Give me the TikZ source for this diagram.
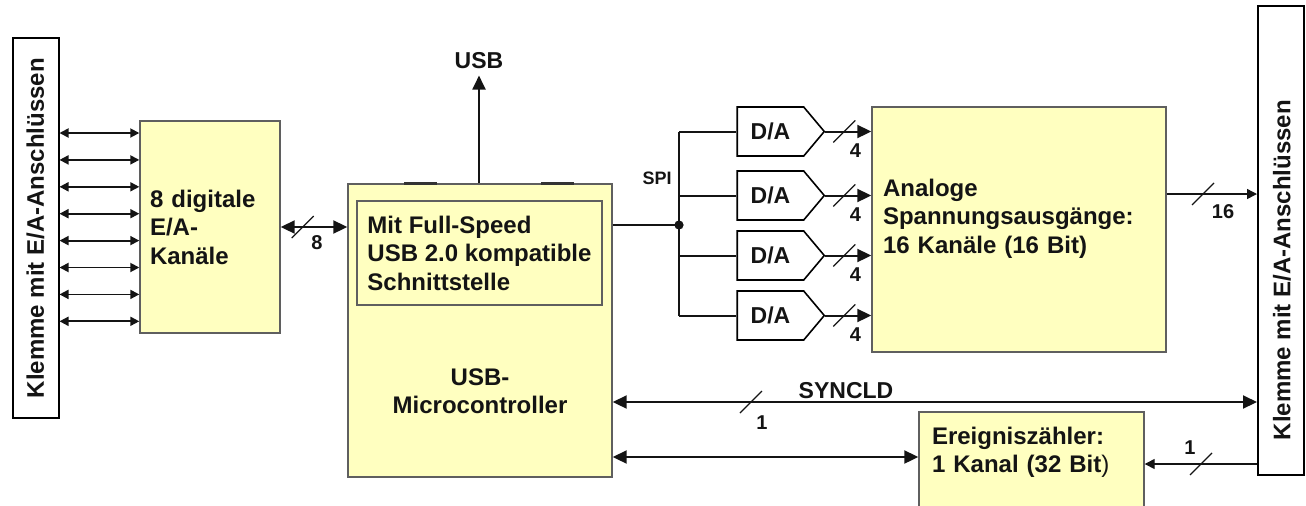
\documentclass[tikz,border=0pt]{standalone}
\usepackage{fontspec}
\setmainfont{Liberation Sans}
\usepackage{tikz}
\usetikzlibrary{arrows.meta,shapes.symbols,calc}
\definecolor{boxyellow}{RGB}{255,255,192}
\definecolor{boxline}{RGB}{95,95,95}
\definecolor{inkblack}{RGB}{20,20,20}
\tikzset{
  basebox/.style={rectangle,draw=boxline,fill=boxyellow,line width=0.7pt,align=left,inner ysep=0pt,text=inkblack,font=\bfseries\fontsize{12}{14.25}\selectfont},
  klemmenode/.style={rectangle,draw=black,fill=white,line width=1pt,rotate=90,minimum height=23pt,text=inkblack,font=\bfseries\fontsize{12}{14}\selectfont},
  danode/.style={signal,signal to=east,signal pointer angle=100,draw=black,fill=white,line width=0.8pt,minimum width=43.5pt,minimum height=24.5pt,inner sep=0pt,text=inkblack,font=\bfseries\fontsize{11.5}{13}\selectfont},
  lblnode/.style={inner sep=0pt,text=inkblack,font=\bfseries\fontsize{10}{12}\selectfont},
  arr/.style={->,>={Triangle[length=7pt,width=6.5pt]},line width=1pt,color=inkblack},
  dblarr/.style={arr,<->},
  smallarr/.style={<->,>={Triangle[length=4.5pt,width=4.5pt]},line width=0.9pt,color=inkblack},
  thinarr/.style={->,>={Triangle[length=5pt,width=5pt]},line width=0.7pt,color=inkblack},
  wire/.style={line width=1pt,color=inkblack},
  tabline/.style={line width=1.3pt,color=black!80},
  slashline/.style={line width=0.6pt,color=inkblack},
  busslash/.pic={\draw[slashline] (-11,11) -- (11,-11);}
}

\begin{document}
\begin{tikzpicture}[x=0.5pt,y=-0.5pt]
  \useasboundingbox (0,0) rectangle (1306,505);

  %% Klemmen links und rechts
  \node[klemmenode,minimum width=190pt] (klL) at (35.5,228) {Klemme mit E/A-Anschlüssen};
  \node[klemmenode,minimum width=234.5pt] (klR) at (1281,240.5) {};
  \node[lblnode,rotate=90,font=\bfseries\fontsize{12}{14}\selectfont] (klRtext) at (1282,270) {Klemme mit E/A-Anschlüssen};

  %% digitale Kanaele
  \node[basebox,text width=60pt,inner xsep=5pt,minimum width=70pt,minimum height=106pt] (dig) at (210,227)
    {8 digitale\\E/A-\\Kanäle};
  \foreach \i in {0,...,7} {
    \coordinate (yy) at (0,{133+\i*26.9});
    \draw[smallarr] (klL.south |- yy) -- (dig.west |- yy);
  }

  %% Microcontroller
  \node[basebox,minimum width=132pt,minimum height=146.5pt] (mc) at (480,330.5) {};
  \node[basebox,minimum width=122.5pt,minimum height=52pt] (usbif) at (479.5,253)
    {Mit Full-Speed\\USB 2.0 kompatible\\Schnittstelle};
  \node[lblnode,align=center,font=\bfseries\fontsize{12}{14.25}\selectfont] (mctext) at (480,391) {USB-\\Microcontroller};
  \draw[tabline] ($(mc.north west)+(57,0)$) -- ++(33,0);
  \draw[tabline] ($(mc.north west)+(194,0)$) -- ++(33,0);

  \draw[dblarr] (dig.east) -- (dig.east -| mc.west);
  \pic at ($(dig.east)+(22,0)$) {busslash};
  \node[lblnode] (n8) at (317,243) {8};

  \node[lblnode,inner sep=3pt,font=\bfseries\fontsize{11.5}{13}\selectfont] (usb) at (479,61) {USB};
  \draw[arr] (usb.south |- mc.north) -- (usb.south);

  %% SPI und D/A
  \coordinate (spi) at (679,225);
  \node[lblnode,font=\bfseries\fontsize{9}{11}\selectfont] (spilbl) at (657,178) {SPI};
  \draw[wire] (mc.east |- spi) -- (spi);
  \fill[inkblack] (spi) circle (2.3pt);

  \node[basebox,text width=136pt,inner xsep=5.5pt,minimum width=147pt,minimum height=122.5pt,text depth=41.8pt] (ana) at (1019,229.5)
    {Analoge\\Spannungsausgänge:\\16 Kanäle (16 Bit)};

  \foreach \i/\y in {1/131.5,2/195.5,3/255.5,4/315.5} {
    \node[danode] (da\i) at (770.5,\y) {D/A};
    \draw[wire] (spi |- da\i.west) -- (da\i.west);
    \draw[arr] (da\i.east) -- (da\i.east -| ana.west);
    \pic at ($(da\i.east)+(19,0)$) {busslash};
    \node[lblnode] (n4\i) at ($(da\i.east)+(30,19)$) {4};
  }
  \draw[wire] (spi |- da1.west) -- (spi |- da4.west);

  %% Ausgaenge zur Klemme
  \coordinate (o16) at (1203,194);
  \draw[thinarr] (ana.east |- o16) -- (klR.north |- o16);
  \pic at (o16) {busslash};
  \node[lblnode] (n16) at (1223,212) {16};

  \coordinate (sy) at (751,402);
  \draw[dblarr] (mc.east |- sy) -- (klR.north |- sy);
  \pic at (sy) {busslash};
  \node[lblnode] (n1a) at (762,423) {1};
  \node[lblnode,font=\bfseries\fontsize{11.5}{13}\selectfont] (synlbl) at (846,391) {SYNCLD};

  %% Ereigniszaehler
  \node[basebox,text width=99.5pt,inner xsep=6.5pt,minimum width=112.5pt,minimum height=50pt,text depth=26.3pt] (ev) at (1031.5,462)
    {Ereigniszähler:\\1 Kanal (32 Bit\textmd{)}};
  \coordinate (evin) at (700,457);
  \draw[dblarr] (mc.east |- evin) -- (ev.west |- evin);
  \coordinate (evout) at (1201,464);
  \draw[thinarr] (klR.north |- evout) -- (ev.east |- evout);
  \pic at (evout) {busslash};
  \node[lblnode] (n1b) at (1190,448) {1};
\end{tikzpicture}
\end{document}
